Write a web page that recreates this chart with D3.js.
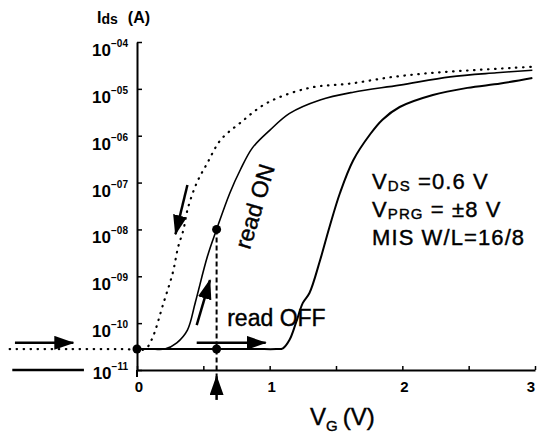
<!DOCTYPE html>
<html>
<head>
<meta charset="utf-8">
<script src="https://cdn.jsdelivr.net/npm/d3@7"></script>
<style>
  body { margin: 0; background: #fff; }
  svg { display: block; font-family: "Liberation Sans", Arial, sans-serif; }
</style>
</head>
<body>
<script>
// Id-VG curves, values (V in volts, I in amperes)
const dottedV = [-0.96, -0.5, -0.1, 0.06, 0.11, 0.20, 0.27, 0.31, 0.35, 0.38, 0.45, 0.53, 0.63, 0.78, 0.98, 1.30, 1.61, 1.93, 2.23, 2.53, 2.83, 3.01];
const dottedI = [2.8e-11, 2.8e-11, 2.8e-11, 2.8e-11, 4.4e-11, 2.7e-10, 1.2e-9, 4.2e-9, 9.8e-9, 2.6e-8, 9.8e-8, 2.6e-7, 8.1e-7, 1.9e-6, 5.0e-6, 1.05e-5, 1.3e-5, 1.8e-5, 2.2e-5, 2.5e-5, 2.8e-5, 3.0e-5];

const onV = [0, 0.1, 0.21, 0.30, 0.38, 0.44, 0.53, 0.60, 0.70, 0.78, 0.87, 1.00, 1.15, 1.38, 1.63, 1.98, 2.36, 2.71, 2.98];
const onI = [2.8e-11, 2.8e-11, 2.8e-11, 3.8e-11, 7.1e-11, 2.8e-10, 2.6e-9, 1.0e-8, 6.0e-8, 1.9e-7, 5.5e-7, 1.3e-6, 3.0e-6, 5.8e-6, 8.5e-6, 1.2e-5, 1.8e-5, 2.2e-5, 2.5e-5];

const offV = [0, 0.3, 0.6, 0.9, 1.05, 1.10, 1.15, 1.20, 1.25, 1.30, 1.38, 1.45, 1.53, 1.63, 1.76, 1.85, 1.98, 2.23, 2.49, 2.74, 2.98];
const offI = [2.8e-11, 2.8e-11, 2.8e-11, 2.8e-11, 2.8e-11, 2.9e-11, 4.4e-11, 1.05e-10, 2.7e-10, 4.4e-10, 2.2e-9, 1.1e-8, 6.0e-8, 3.0e-7, 1.1e-6, 2.2e-6, 4.1e-6, 7.4e-6, 1.05e-5, 1.3e-5, 1.7e-5];

const tailV = [-0.94, -0.40];
const tailI = [1e-11, 1e-11];

const readPointsV = [0, 0.6, 0.6];
const readPointsI = [2.8e-11, 2.8e-11, 1.0e-8];

const yTicks = [1e-4, 1e-5, 1e-6, 1e-7, 1e-8, 1e-9, 1e-10, 1e-11];
const yTickExp = ["\u221204", "\u221205", "\u221206", "\u221207", "\u221208", "\u221209", "\u221210", "\u221211"];
const xTicks = [0, 0.5, 1, 1.5, 2, 2.5, 3];
const xLabels = [0, 1, 2, 3];

// arrows: [V1, I1, V2, I2]
const arrows = [
  [-0.92, 3.8e-11, -0.48, 3.8e-11],
  [0.38, 8.9e-8, 0.29, 7.9e-9],
  [0.45, 9.1e-11, 0.55, 8.3e-10],
  [0.45, 3.8e-11, 0.97, 3.8e-11],
  [0.6, 2.3e-12, 0.6, 7.4e-12]
];

const W = 539, H = 434;
const svg = d3.select("body").append("svg").attr("width", W).attr("height", H);

const x = d3.scaleLinear().domain([0, 3]).range([137, 535]);
const y = d3.scaleLog().domain([1e-11, 1e-4]).range([370, 42]);

svg.append("defs").append("marker")
  .attr("id", "head").attr("viewBox", "0 0 20 14")
  .attr("refX", 19).attr("refY", 7)
  .attr("markerWidth", 20).attr("markerHeight", 14)
  .attr("markerUnits", "userSpaceOnUse")
  .attr("orient", "auto")
  .append("path").attr("d", "M0,0L20,7L0,14Z").attr("fill", "#000");

// axes
svg.append("g").attr("transform", "translate(137,0)")
  .call(d3.axisRight(y).tickValues(yTicks).tickFormat("").tickSizeInner(5).tickSizeOuter(0));
svg.append("g").attr("transform", "translate(0,370)")
  .call(d3.axisTop(x).tickValues(xTicks).tickFormat("").tickSizeInner(4).tickSizeOuter(0));
svg.selectAll(".domain").attr("stroke-width", 2);
svg.selectAll(".tick line").attr("stroke-width", 1.5);
svg.append("line").attr("x1", 137).attr("x2", 137).attr("y1", 370).attr("y2", 377)
  .attr("stroke", "#000").attr("stroke-width", 2);

// y tick labels
const yl = svg.append("g").selectAll("text").data(yTicks).join("text")
  .attr("x", 128).attr("y", (d, i) => y(d) + (i === yTicks.length - 1 ? 9 : 14))
  .attr("text-anchor", "end")
  .attr("font-size", 17).attr("font-weight", "bold");
yl.append("tspan").text("10");
yl.append("tspan").attr("dy", -9).attr("font-size", 10).text((d, i) => yTickExp[i]);

// x tick labels
svg.append("g").selectAll("text").data(xLabels).join("text")
  .attr("x", d => Math.min(x(d) + 2, 531)).attr("y", 392)
  .attr("text-anchor", "middle")
  .attr("font-size", 15).attr("font-weight", "bold")
  .text(d => d);

// axis titles
const yt = svg.append("text").attr("x", 97).attr("y", 23).attr("font-size", 16).attr("font-weight", "bold");
yt.append("tspan").text("I");
yt.append("tspan").attr("font-size", 14).attr("dy", 1).text("ds");
yt.append("tspan").attr("dy", -1).attr("dx", 10).text("(A)");

const xt = svg.append("text").attr("x", 310).attr("y", 425).attr("font-size", 24)
  .attr("stroke", "#000").attr("stroke-width", 0.4);
xt.append("tspan").text("V");
xt.append("tspan").attr("font-size", 15).attr("dy", 6).text("G");
xt.append("tspan").attr("dy", -6).attr("dx", 5).text("(V)");

// curves
const line = d3.line().x(d => x(d[0])).y(d => y(d[1])).curve(d3.curveCatmullRom.alpha(0.5));
const zip = (a, b) => a.map((v, i) => [v, b[i]]);

svg.append("path").datum(zip(dottedV, dottedI)).attr("d", line)
  .attr("fill", "none").attr("stroke", "#000").attr("stroke-width", 2.2)
  .attr("stroke-dasharray", "0.5,6.5").attr("stroke-linecap", "round");
svg.append("path").datum(zip(onV, onI)).attr("d", line)
  .attr("fill", "none").attr("stroke", "#000").attr("stroke-width", 1.6);
svg.append("path").datum(zip(offV, offI)).attr("d", line)
  .attr("fill", "none").attr("stroke", "#000").attr("stroke-width", 2);
svg.append("path").datum(zip(tailV, tailI)).attr("d", line)
  .attr("fill", "none").attr("stroke", "#000").attr("stroke-width", 2.5);

// dashed read line
svg.append("line")
  .attr("x1", x(0.6)).attr("x2", x(0.6))
  .attr("y1", y(1.0e-8)).attr("y2", y(7.4e-12))
  .attr("stroke", "#000").attr("stroke-width", 2).attr("stroke-dasharray", "5,3");

// read points
svg.append("g").selectAll("circle").data(zip(readPointsV, readPointsI)).join("circle")
  .attr("cx", d => x(d[0])).attr("cy", d => y(d[1])).attr("r", 4.5).attr("fill", "#000");

// arrows
svg.append("g").selectAll("line").data(arrows).join("line")
  .attr("x1", d => x(d[0])).attr("y1", d => y(d[1]))
  .attr("x2", d => x(d[2])).attr("y2", d => y(d[3]))
  .attr("stroke", "#000").attr("stroke-width", 2.5)
  .attr("marker-end", "url(#head)");

// annotations
const ann = svg.append("g").attr("stroke", "#000").attr("stroke-width", 0.4);
ann.append("text")
  .attr("transform", `translate(${x(0.85)},${y(3.6e-9)}) rotate(-73)`)
  .attr("font-size", 23).text("read ON");
ann.append("text").attr("x", x(0.68)).attr("y", y(8.5e-11))
  .attr("font-size", 23).text("read OFF");

const notes = ann.append("g").attr("font-size", 22).attr("letter-spacing", 1.1);
const n1 = notes.append("text").attr("x", 372).attr("y", 189);
n1.append("tspan").text("V");
n1.append("tspan").attr("font-size", 15).attr("dy", 2).text("DS");
n1.append("tspan").attr("dy", -2).text(" =0.6 V");
const n2 = notes.append("text").attr("x", 372).attr("y", 217);
n2.append("tspan").text("V");
n2.append("tspan").attr("font-size", 15).attr("dy", 2).text("PRG");
n2.append("tspan").attr("dy", -2).text(" =  \u00b18 V");
notes.append("text").attr("x", 372).attr("y", 245).text("MIS W/L=16/8");
</script>
</body>
</html>
